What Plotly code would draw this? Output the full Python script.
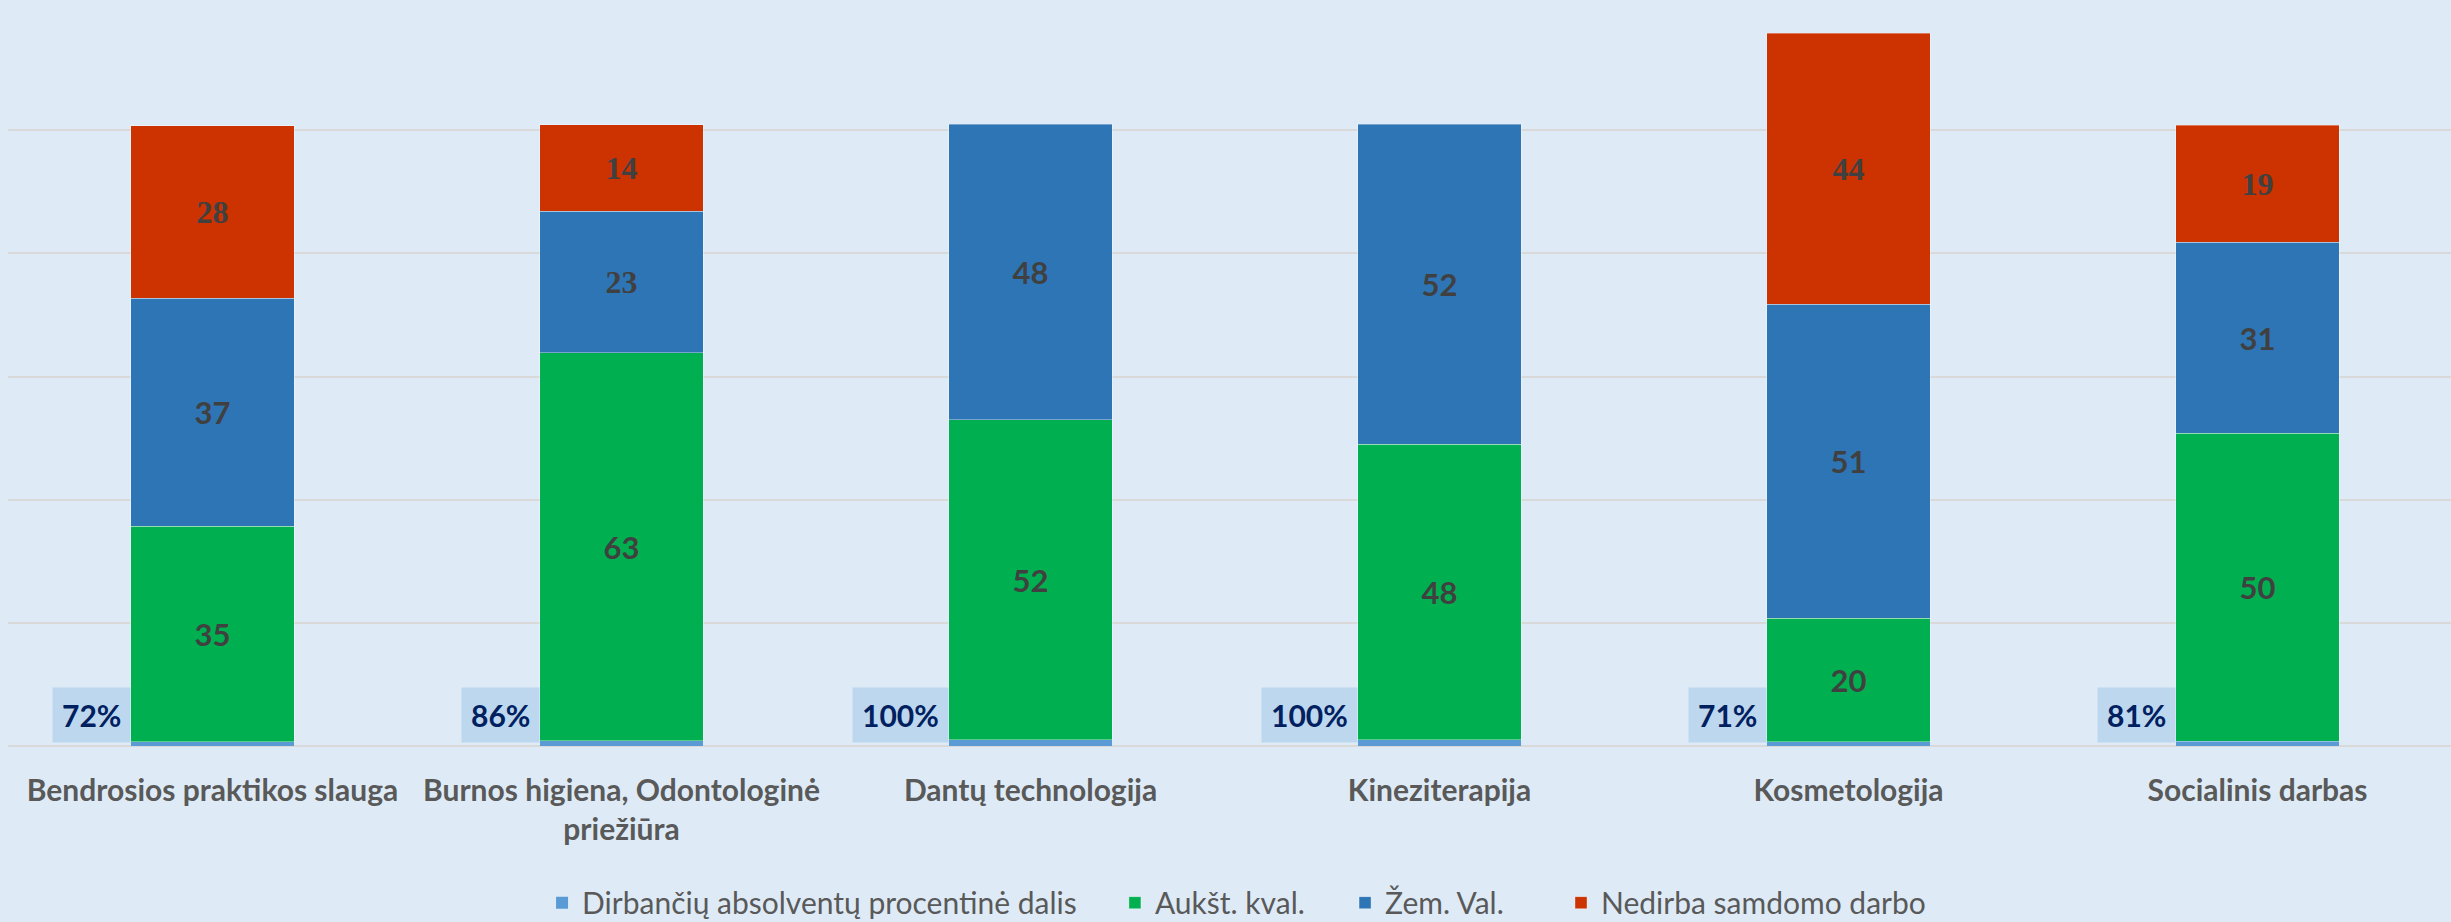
import plotly.graph_objects as go

categories = [
    "Bendrosios praktikos slauga",
    "Burnos higiena, Odontologinė<br>priežiūra",
    "Dantų technologija",
    "Kineziterapija",
    "Kosmetologija",
    "Socialinis darbas",
]
dirbanciu = [0.72, 0.86, 1.00, 1.00, 0.71, 0.81]
auksti = [35, 63, 52, 48, 20, 50]
zem = [37, 23, 48, 52, 51, 31]
nedirba = [28, 14, None, None, 44, 19]

series_names = [
    "Dirbančių absolventų procentinė dalis",
    "Aukšt. kval.",
    "Žem. Val.",
    "Nedirba samdomo darbo",
]

BG = "#DEEBF7"
BAR_W = 0.4
SANS = "Lato, 'Open Sans', sans-serif"
SERIF = "'Liberation Serif', 'Times New Roman', serif"
LBL = "#404040"
EDGE = dict(color="rgba(255,255,255,0.35)", width=1)
SANS_SZ = 31
SERIF_SZ = 32

# left positions (paper fraction) of each legend entry
legend_x = [0.2186, 0.4531, 0.5473, 0.6357]
legend_ids = ["legend", "legend2", "legend3", "legend4"]

x_idx = list(range(len(categories)))

fig = go.Figure()
fig.add_trace(go.Bar(
    name=series_names[0], x=x_idx, y=dirbanciu, width=BAR_W,
    marker=dict(color="#5B9BD5", line=dict(width=0)),
    hoverinfo="skip", legend=legend_ids[0],
))
fig.add_trace(go.Bar(
    name=series_names[1], x=x_idx, y=auksti, width=BAR_W,
    marker=dict(color="#00B050", line=EDGE),
    text=[str(v) for v in auksti], textposition="inside", insidetextanchor="middle",
    textfont=dict(family=SANS, size=SANS_SZ, color=LBL, weight="bold"),
    textangle=0, legend=legend_ids[1],
))
zem_fonts = [SANS, SERIF, SANS, SANS, SANS, SANS]
zem_sizes = [SANS_SZ, SERIF_SZ, SANS_SZ, SANS_SZ, SANS_SZ, SANS_SZ]
fig.add_trace(go.Bar(
    name=series_names[2], x=x_idx, y=zem, width=BAR_W,
    marker=dict(color="#2E75B6", line=EDGE),
    text=[str(v) for v in zem], textposition="inside", insidetextanchor="middle",
    textfont=dict(family=zem_fonts, size=zem_sizes, color=LBL, weight="bold"),
    textangle=0, legend=legend_ids[2],
))
fig.add_trace(go.Bar(
    name=series_names[3], x=x_idx, y=nedirba, width=BAR_W,
    marker=dict(color="#CC3300", line=EDGE),
    text=["" if v is None else str(v) for v in nedirba], textposition="inside",
    insidetextanchor="middle",
    textfont=dict(family=SERIF, size=SERIF_SZ, color=LBL, weight="bold"),
    textangle=0, legend=legend_ids[3],
))

for i, v in enumerate(dirbanciu):
    fig.add_annotation(
        x=i - BAR_W / 2, y=0, xref="x", yref="y",
        text=f"<b>{round(v * 100)}%</b>",
        showarrow=False, xanchor="right", yanchor="bottom", yshift=3,
        font=dict(family=SANS, size=30, color="#002060"),
        bgcolor="#BDD7EE", borderpad=9,
    )

legend_common = dict(
    orientation="h", xref="paper", yref="container",
    xanchor="left", y=0.021, yanchor="middle",
    font=dict(family=SANS, size=30, color="#595959"),
    bgcolor="rgba(0,0,0,0)", itemclick=False, itemdoubleclick=False,
)
legend_layout = {
    lid: dict(legend_common, x=lx) for lid, lx in zip(legend_ids, legend_x)
}

fig.update_layout(
    width=2451, height=922,
    barmode="stack",
    paper_bgcolor=BG, plot_bgcolor=BG,
    margin=dict(l=8, r=0, t=7, b=176),
    showlegend=True,
    uniformtext=dict(mode=False),
    **legend_layout,
)
fig.update_xaxes(
    tickmode="array", tickvals=x_idx, ticktext=categories,
    range=[-0.5, 5.473],
    showgrid=False, showline=False, zeroline=False,
    ticks="", ticklabelstandoff=24,
    tickfont=dict(family=SANS, size=30, color="#595959", weight="bold"),
)
fig.update_yaxes(
    range=[0, 120], dtick=20, showticklabels=False,
    showgrid=True, gridcolor="#D9D9D9", gridwidth=2,
    zeroline=True, zerolinecolor="#D9D9D9", zerolinewidth=2,
    showline=False,
)

fig.write_html(
    "out.html",
    config={"displayModeBar": False},
    post_script="document.body.style.margin='0';document.body.style.background='" + BG + "';",
)
